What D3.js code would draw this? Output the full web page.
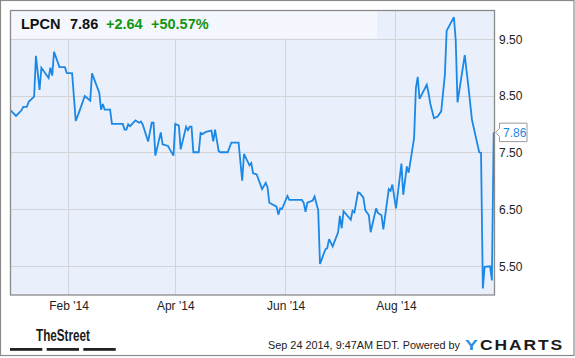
<!DOCTYPE html>
<html>
<head>
<meta charset="utf-8">
<script src="https://cdn.jsdelivr.net/npm/d3@7"></script>
<style>
  html, body { margin: 0; padding: 0; background: #fff; }
  svg { display: block; font-family: "Liberation Sans", Arial, Helvetica, sans-serif; }
</style>
</head>
<body>
<svg id="chart" width="575" height="358"></svg>
<script>
// ---------------- data ----------------
const ticker = "LPCN";
const lastPrice = "7.86";
const change = "+2.64";
const changePct = "+50.57%";

const dates = [
  "2013-12-31","2014-01-03","2014-01-06","2014-01-07","2014-01-09","2014-01-10","2014-01-13","2014-01-14","2014-01-16","2014-01-17","2014-01-21","2014-01-22","2014-01-23","2014-01-24","2014-01-27","2014-01-30","2014-01-31",
  "2014-02-03","2014-02-05","2014-02-07","2014-02-10","2014-02-13","2014-02-14","2014-02-18","2014-02-19","2014-02-20","2014-02-21","2014-02-24","2014-02-25",
  "2014-03-03","2014-03-04","2014-03-05","2014-03-06","2014-03-07","2014-03-10","2014-03-12","2014-03-13","2014-03-14","2014-03-17","2014-03-19","2014-03-20","2014-03-21","2014-03-24","2014-03-25","2014-03-28","2014-03-29","2014-03-31",
  "2014-04-01","2014-04-03","2014-04-04","2014-04-07","2014-04-08","2014-04-09","2014-04-10","2014-04-11","2014-04-14","2014-04-15","2014-04-16","2014-04-18","2014-04-21","2014-04-22","2014-04-23","2014-04-25","2014-04-26","2014-04-30",
  "2014-05-02","2014-05-06","2014-05-08","2014-05-09","2014-05-12","2014-05-13","2014-05-14","2014-05-16","2014-05-19","2014-05-21","2014-05-22","2014-05-23","2014-05-27","2014-05-28","2014-05-29","2014-05-30",
  "2014-06-02","2014-06-03","2014-06-10","2014-06-11","2014-06-12","2014-06-13","2014-06-16","2014-06-17","2014-06-19","2014-06-20","2014-06-23","2014-06-24","2014-06-25","2014-06-27","2014-06-30",
  "2014-07-01","2014-07-02","2014-07-03","2014-07-07","2014-07-08","2014-07-09","2014-07-11","2014-07-12","2014-07-14","2014-07-15","2014-07-17","2014-07-18","2014-07-21","2014-07-22","2014-07-24","2014-07-25","2014-07-28","2014-07-29","2014-07-30",
  "2014-08-01","2014-08-04","2014-08-05","2014-08-07","2014-08-08","2014-08-11","2014-08-12","2014-08-13","2014-08-14","2014-08-18","2014-08-19","2014-08-20","2014-08-22","2014-08-24","2014-08-26","2014-08-28","2014-08-29",
  "2014-09-02","2014-09-03","2014-09-04","2014-09-08","2014-09-10","2014-09-12","2014-09-16","2014-09-17","2014-09-18","2014-09-19","2014-09-22","2014-09-23","2014-09-24"
];
const prices = [
  8.25,8.15,8.25,8.31,8.31,8.40,8.49,9.21,8.61,9.00,8.82,9.00,8.86,9.28,9.01,9.01,8.91,
  8.90,8.06,8.23,8.50,8.42,8.90,8.56,8.26,8.36,8.26,8.26,8.01,
  8.01,7.91,7.91,8.00,7.97,8.07,8.03,8.05,8.00,7.70,8.03,8.03,7.45,7.86,7.65,7.62,7.56,7.45,
  8.01,7.98,7.56,7.96,7.90,7.96,7.96,7.51,7.51,7.85,7.83,7.87,7.89,7.70,7.91,7.53,7.51,7.51,
  7.68,7.68,7.01,7.48,7.28,7.32,7.14,7.12,6.86,6.97,6.89,6.62,6.55,6.41,6.52,6.51,
  6.74,6.67,6.67,6.62,6.46,6.62,6.66,6.73,6.49,5.54,5.80,5.82,5.98,5.85,6.10,
  6.39,6.17,6.47,6.32,6.48,6.45,6.80,6.79,6.71,6.49,6.40,6.10,6.52,6.44,6.40,6.15,6.86,6.83,6.94,
  6.52,7.31,6.76,7.26,7.15,7.76,8.64,8.84,8.45,8.70,8.55,8.36,8.11,8.14,8.23,8.87,9.65,
  9.89,9.49,8.39,9.22,8.67,8.08,7.51,7.50,5.11,5.49,5.50,5.25,7.86
];
const xTickDates = ["2014-02-01","2014-04-01","2014-06-01","2014-08-01"];
const xTickLabels = ["Feb '14","Apr '14","Jun '14","Aug '14"];
const yTicks = [5.5, 6.5, 7.5, 8.5, 9.5];
const yTickLabels = ["5.50","6.50","7.50","8.50","9.50"];
const footerText = "Sep 24 2014, 9:47AM EDT. Powered by";

// ---------------- layout ----------------
const svg = d3.select("#chart");
const L = 10.5, T = 10.5, R = 494.5, B = 295;
const parse = d3.utcParse("%Y-%m-%d");
const data = dates.map((d, i) => ({ date: parse(d), value: prices[i] }));

const x = d3.scaleUtc()
  .domain([new Date(Date.UTC(2013, 11, 30, 16)), new Date(Date.UTC(2014, 8, 24, 4))])
  .range([10, 494]);
const y = d3.scaleLinear().domain([4.994, 10.008]).range([295, 10.5]);

const blue = "#1b88e6";
const green = "#129612";

// outer frame
svg.append("rect").attr("x", 0.5).attr("y", 0.5).attr("width", 573.5).attr("height", 355)
  .attr("fill", "#fff").attr("stroke", "#8a8a8a").attr("stroke-width", 1.2);

// plot background
svg.append("rect").attr("x", L).attr("y", T).attr("width", R - L).attr("height", B - T)
  .attr("fill", "#e9effb");

// gridlines
const grid = svg.append("g").attr("stroke", "#d2d4d8").attr("stroke-width", 1).attr("shape-rendering", "crispEdges");
grid.selectAll("line.h").data(yTicks).join("line").attr("class", "h")
  .attr("x1", L).attr("x2", R)
  .attr("y1", d => Math.floor(y(d)) + 0.5).attr("y2", d => Math.floor(y(d)) + 0.5);
grid.selectAll("line.v").data(xTickDates).join("line").attr("class", "v")
  .attr("x1", d => Math.floor(x(parse(d))) + 0.5).attr("x2", d => Math.floor(x(parse(d))) + 0.5)
  .attr("y1", T).attr("y2", B);

// header band
svg.append("rect").attr("x", 11).attr("y", 11).attr("width", 366).attr("height", 27.5)
  .attr("fill", "#f4f7fd");

// price line
svg.append("clipPath").attr("id", "clip").append("rect")
  .attr("x", L).attr("y", T).attr("width", R - L).attr("height", B - T);
svg.append("path").datum(data)
  .attr("clip-path", "url(#clip)")
  .attr("fill", "none").attr("stroke", blue).attr("stroke-width", 1.8)
  .attr("stroke-linejoin", "miter").attr("stroke-miterlimit", 3)
  .attr("d", d3.line().x(d => x(d.date)).y(d => y(d.value)));

// plot border
svg.append("rect").attr("x", L).attr("y", T).attr("width", R - L).attr("height", B - T)
  .attr("fill", "none").attr("stroke", "#8a8a8a").attr("stroke-width", 1.3);

// x axis labels
const xAxis = d3.axisBottom(x)
  .tickValues(xTickDates.map(parse))
  .tickFormat((d, i) => xTickLabels[i])
  .tickSize(0).tickPadding(6);
const gx = svg.append("g").attr("transform", `translate(0,${B})`).call(xAxis);
gx.select(".domain").remove();
gx.selectAll("text").attr("font-size", 12).attr("fill", "#222")
  .attr("font-family", "'Liberation Sans', Arial, sans-serif");

// y axis labels (right)
const yAxis = d3.axisRight(y).tickValues(yTicks).tickFormat((d, i) => yTickLabels[i])
  .tickSize(0).tickPadding(5);
const gy = svg.append("g").attr("transform", `translate(${R - 0.5},0)`).call(yAxis);
gy.select(".domain").remove();
gy.selectAll("text").attr("font-size", 12).attr("fill", "#222")
  .attr("font-family", "'Liberation Sans', Arial, sans-serif");

// last price callout
const lastY = y(prices[prices.length - 1]);
const cx0 = 495.5, bx = 499.5, bx2 = 527, bh = 18.5;
svg.append("path")
  .attr("d", `M${cx0},${lastY} L${bx},${lastY - 4} L${bx},${lastY - bh / 2} L${bx2},${lastY - bh / 2} L${bx2},${lastY + bh / 2} L${bx},${lastY + bh / 2} L${bx},${lastY + 4} Z`)
  .attr("fill", "#fff").attr("stroke", "#9a9a9a").attr("stroke-width", 1);
svg.append("text").attr("x", 503).attr("y", lastY).attr("dy", "0.36em")
  .attr("font-size", 12).attr("fill", blue).text(lastPrice);

// header text
const hdr = svg.append("g").attr("font-size", 14.5).attr("font-weight", "bold");
hdr.append("text").attr("x", 21).attr("y", 28.5).attr("fill", "#111").text(ticker);
hdr.append("text").attr("x", 70).attr("y", 28.5).attr("fill", "#111").text(lastPrice);
hdr.append("text").attr("x", 106).attr("y", 28.5).attr("fill", green).text(change);
hdr.append("text").attr("x", 151).attr("y", 28.5).attr("fill", green).text(changePct);

// footer: TheStreet logo
svg.append("text").attr("x", 36).attr("y", 341).attr("font-size", 17).attr("font-weight", "bold")
  .attr("font-family", "'Liberation Sans Narrow', 'Arial Narrow', 'Liberation Sans', sans-serif")
  .attr("textLength", 54).attr("lengthAdjust", "spacingAndGlyphs")
  .attr("fill", "#1a1a1a").text("TheStreet");
[[10, 42.3], [46.7, 79], [83.3, 115.7]].forEach(([a, b]) => {
  svg.append("rect").attr("x", a).attr("y", 348).attr("width", b - a).attr("height", 2.8).attr("fill", "#222");
});

// footer text
svg.append("text").attr("x", 268).attr("y", 349).attr("font-size", 11).attr("fill", "#222")
  .attr("textLength", 192).attr("lengthAdjust", "spacingAndGlyphs").text(footerText);
svg.append("text").attr("x", 465).attr("y", 349.5).attr("font-size", 14.5).attr("font-weight", "bold")
  .attr("textLength", 12.7).attr("lengthAdjust", "spacingAndGlyphs")
  .attr("fill", "#2a8fde").text("Y");
svg.append("text").attr("x", 480).attr("y", 349.5).attr("font-size", 14).attr("font-weight", 900)
  .attr("letter-spacing", 1.5)
  .attr("textLength", 84).attr("lengthAdjust", "spacingAndGlyphs")
  .attr("fill", "#1a1a1a").text("CHARTS");
</script>
</body>
</html>
